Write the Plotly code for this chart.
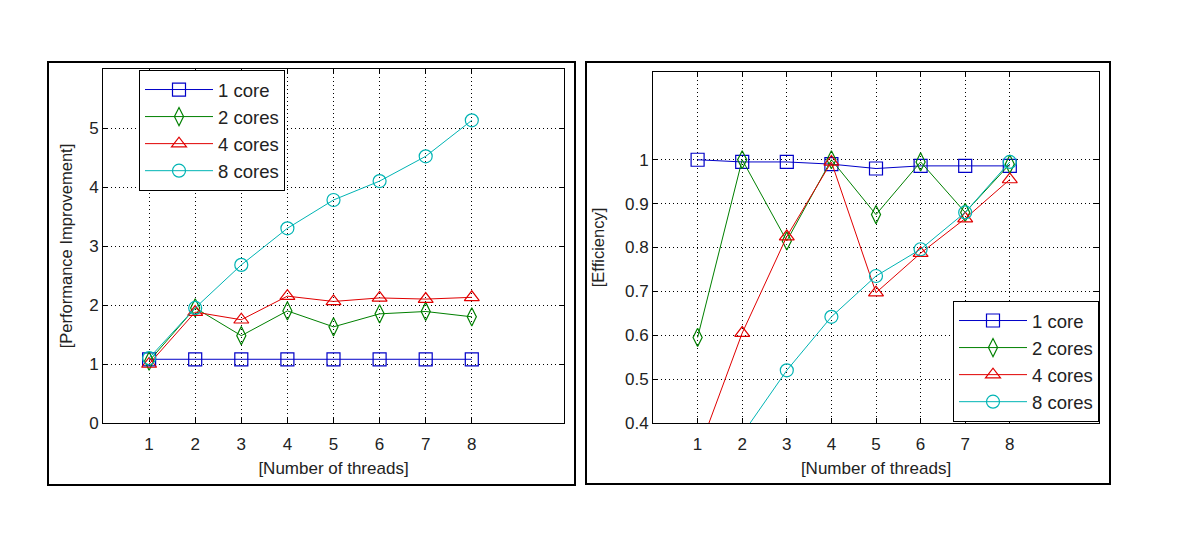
import plotly.graph_objects as go

threads = [1, 2, 3, 4, 5, 6, 7, 8]
series_names = ["1 core", "2 cores", "4 cores", "8 cores"]

perf_1core = [1.08, 1.08, 1.08, 1.08, 1.08, 1.08, 1.08, 1.08]
perf_2cores = [1.05, 1.95, 1.48, 1.90, 1.63, 1.85, 1.89, 1.80]
perf_4cores = [1.00, 1.88, 1.75, 2.15, 2.06, 2.12, 2.10, 2.13]
perf_8cores = [1.10, 1.95, 2.68, 3.30, 3.78, 4.10, 4.52, 5.13]

eff_1core = [1.00, 0.995, 0.995, 0.99, 0.98, 0.986, 0.986, 0.986]
eff_2cores = [0.595, 1.00, 0.815, 1.00, 0.875, 0.995, 0.88, 0.99]
eff_4cores = [0.33, 0.605, 0.825, 0.995, 0.697, 0.787, 0.866, 0.955]
eff_8cores = [0.20, 0.374, 0.52, 0.642, 0.735, 0.796, 0.88, 0.995]

perf_ticks = [0, 1, 2, 3, 4, 5]
eff_ticks = [0.4, 0.5, 0.6, 0.7, 0.8, 0.9, 1.0]
eff_ticktext = ["0.4", "0.5", "0.6", "0.7", "0.8", "0.9", "1"]

colors = ["#0000c8", "#008000", "#e00000", "#00b4b4"]
symbols = ["square-open", "diamond-tall-open", "triangle-up-open", "circle-open"]

# page body has an 8px default margin on every side; size the figure to fit the window
OFF = 8
W, H = 1200 - 2 * OFF, 538 - 2 * OFF
def px(x):
    return (x - OFF) / W
def py(y):
    return 1 - (y - OFF) / H

fig = go.Figure()

perf = [perf_1core, perf_2cores, perf_4cores, perf_8cores]
eff = [eff_1core, eff_2cores, eff_4cores, eff_8cores]

for i, name in enumerate(series_names):
    fig.add_trace(go.Scatter(
        x=threads, y=perf[i], name=name, mode="lines+markers",
        line=dict(color=colors[i], width=1),
        marker=dict(symbol=symbols[i], size=13, color=colors[i], line=dict(width=1.2, color=colors[i])),
        xaxis="x", yaxis="y", legend="legend", legendgroup="a%d" % i,
    ))
for i, name in enumerate(series_names):
    fig.add_trace(go.Scatter(
        x=threads, y=eff[i], name=name, mode="lines+markers",
        line=dict(color=colors[i], width=1),
        marker=dict(symbol=symbols[i], size=13, color=colors[i], line=dict(width=1.2, color=colors[i])),
        xaxis="x2", yaxis="y2", legend="legend2", legendgroup="b%d" % i,
    ))

axis_common = dict(
    showline=True, mirror="ticks", linecolor="black", linewidth=1,
    ticks="inside", ticklen=5, tickcolor="black",
    showgrid=True, gridcolor="black", griddash="1px,3px", gridwidth=1,
    zeroline=False, tickfont=dict(size=17, color="#222"), automargin=False,
)

fig.update_layout(
    width=W, height=H,
    margin=dict(l=0, r=0, t=0, b=0, pad=0, autoexpand=False),
    paper_bgcolor="white", plot_bgcolor="white",
    font=dict(family="Liberation Sans", size=17, color="#222"),
    showlegend=True,
    xaxis=dict(domain=[px(103), px(564)], range=[0, 10], tickvals=threads,
               anchor="y", ticklabelstandoff=6,
               title=dict(text="[Number of threads]", font=dict(size=17), standoff=8),
               **axis_common),
    yaxis=dict(domain=[py(423), py(69)], range=[0, 6], tickvals=perf_ticks,
               anchor="x",
               title=dict(text="[Performance Improvement]", font=dict(size=16.5), standoff=12),
               **axis_common),
    xaxis2=dict(domain=[px(653), px(1099)], range=[0, 10], tickvals=threads,
                anchor="y2", ticklabelstandoff=6,
                title=dict(text="[Number of threads]", font=dict(size=17), standoff=8),
                **axis_common),
    yaxis2=dict(domain=[py(423), py(72)], range=[0.4, 1.2], tickvals=eff_ticks,
                ticktext=eff_ticktext, anchor="x2",
                title=dict(text="[Efficiency]", font=dict(size=16.5), standoff=16),
                **axis_common),
    legend=dict(x=px(139), y=py(70), xanchor="left", yanchor="top",
                bordercolor="black", borderwidth=1, bgcolor="white",
                font=dict(size=18.5), itemwidth=68, tracegroupgap=0,
                itemclick=False, itemdoubleclick=False),
    legend2=dict(x=px(1099), y=py(422), xanchor="right", yanchor="bottom",
                 bordercolor="black", borderwidth=1, bgcolor="white",
                 font=dict(size=18.5), itemwidth=68, tracegroupgap=0,
                 itemclick=False, itemdoubleclick=False),
    shapes=[
        dict(type="rect", xref="paper", yref="paper",
             x0=px(48), x1=px(575), y0=py(485), y1=py(62),
             line=dict(color="black", width=2)),
        dict(type="rect", xref="paper", yref="paper",
             x0=px(586), x1=px(1110), y0=py(484), y1=py(62),
             line=dict(color="black", width=2)),
    ],
)

fig.write_html("out.html")
